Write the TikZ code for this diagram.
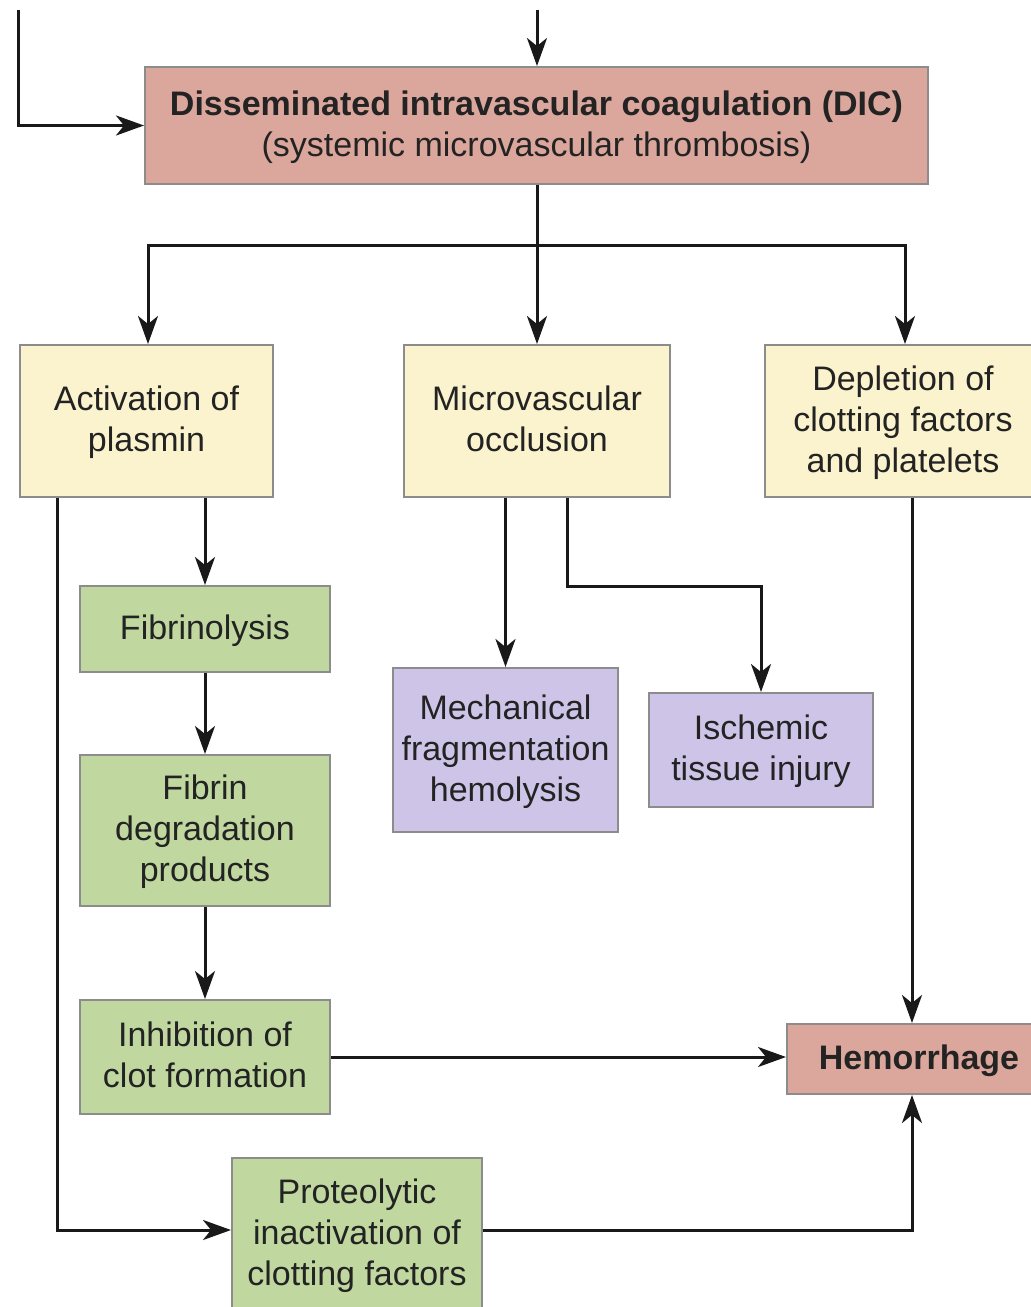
\documentclass[tikz,border=0pt]{standalone}
\usepackage{fontspec}
\setmainfont{Liberation Sans}
\usetikzlibrary{arrows.meta}
\definecolor{pinkbox}{RGB}{219,166,156}
\definecolor{yellowbox}{RGB}{250,243,206}
\definecolor{greenbox}{RGB}{192,216,160}
\definecolor{purplebox}{RGB}{206,196,232}
\definecolor{edgegray}{RGB}{140,140,140}
\definecolor{txt}{RGB}{35,35,35}
\tikzset{
  box/.style={draw=edgegray, line width=2pt, rectangle, align=center, inner sep=0pt,
    text=txt, font=\fontsize{34}{41}\selectfont, text depth=4pt},
  pinkb/.style={box, fill=pinkbox},
  yellowb/.style={box, fill=yellowbox},
  greenb/.style={box, fill=greenbox},
  purpleb/.style={box, fill=purplebox},
  arr/.style={line width=3pt, draw=black!90, -{Stealth[length=28pt,width=20pt,inset=8pt]}},
  ln/.style={line width=3pt, draw=black!90},
}
\begin{document}
\begin{tikzpicture}[x=1pt,y=-1pt]
\useasboundingbox (0,0) rectangle (1031,1307);
% nodes
\node[pinkb, minimum width=783pt, minimum height=117pt] (dic) at (536.5,125.5)
  {\textbf{Disseminated intravascular coagulation (DIC)}\\(systemic microvascular thrombosis)};
\node[yellowb, minimum width=253pt, minimum height=152pt] (act) at (146.5,421) {Activation of\\plasmin};
\node[yellowb, minimum width=266pt, minimum height=152pt] (mic) at (537,421) {Microvascular\\occlusion};
\node[yellowb, minimum width=276pt, minimum height=152pt] (dep) at (903,421) {Depletion of\\clotting factors\\and platelets};
\node[greenb, minimum width=250pt, minimum height=86pt] (fib) at (205,629) {Fibrinolysis};
\node[greenb, minimum width=250pt, minimum height=151pt] (fdp) at (205,830.5) {Fibrin\\degradation\\products};
\node[greenb, minimum width=250pt, minimum height=114pt] (inh) at (205,1057) {Inhibition of\\clot formation};
\node[greenb, minimum width=250pt, minimum height=152pt] (pro) at (357,1234) {Proteolytic\\inactivation of\\clotting factors};
\node[pinkb, minimum width=264pt, minimum height=70pt] (hem) at (919,1059) {\textbf{Hemorrhage}};
\node[purpleb, minimum width=225pt, minimum height=164pt] (mech) at (505.5,750) {Mechanical\\fragmentation\\hemolysis};
\node[purpleb, minimum width=224pt, minimum height=114pt] (isch) at (761,750) {Ischemic\\tissue injury};
% free ends
\coordinate (t0) at (537,10);
\coordinate (l0) at (18,10);
\coordinate (split) at (537,245);
\coordinate (hx) at (912,0);
\coordinate (vx) at (57,0);
% connectors
\draw[arr] (t0) -- (t0 |- dic.north);
\draw[arr] (l0) |- (dic.west);
\draw[ln] (split |- dic.south) -- (split);
\draw[arr] (split) -| ([xshift=1.5pt]act.north);
\draw[arr] (split) -- (mic.north);
\draw[arr] (split) -| ([xshift=2pt]dep.north);
\draw[arr] (fib.north |- act.south) -- (fib.north);
\draw[arr] (fib.south) -- (fdp.north);
\draw[arr] (fdp.south) -- (inh.north);
\draw[arr] (vx |- act.south) |- ([yshift=4pt]pro.west);
\draw[arr] (inh.east) -- (inh.east -| hem.west);
\draw[arr] ([yshift=4pt]pro.east) -| (hx |- hem.south);
\draw[arr] (hx |- dep.south) -- (hx |- hem.north);
\draw[arr] (mech.north |- mic.south) -- (mech.north);
\draw[arr] ([xshift=30pt]mic.south) -- ++(0,88) -| (isch.north);
\end{tikzpicture}
\end{document}
